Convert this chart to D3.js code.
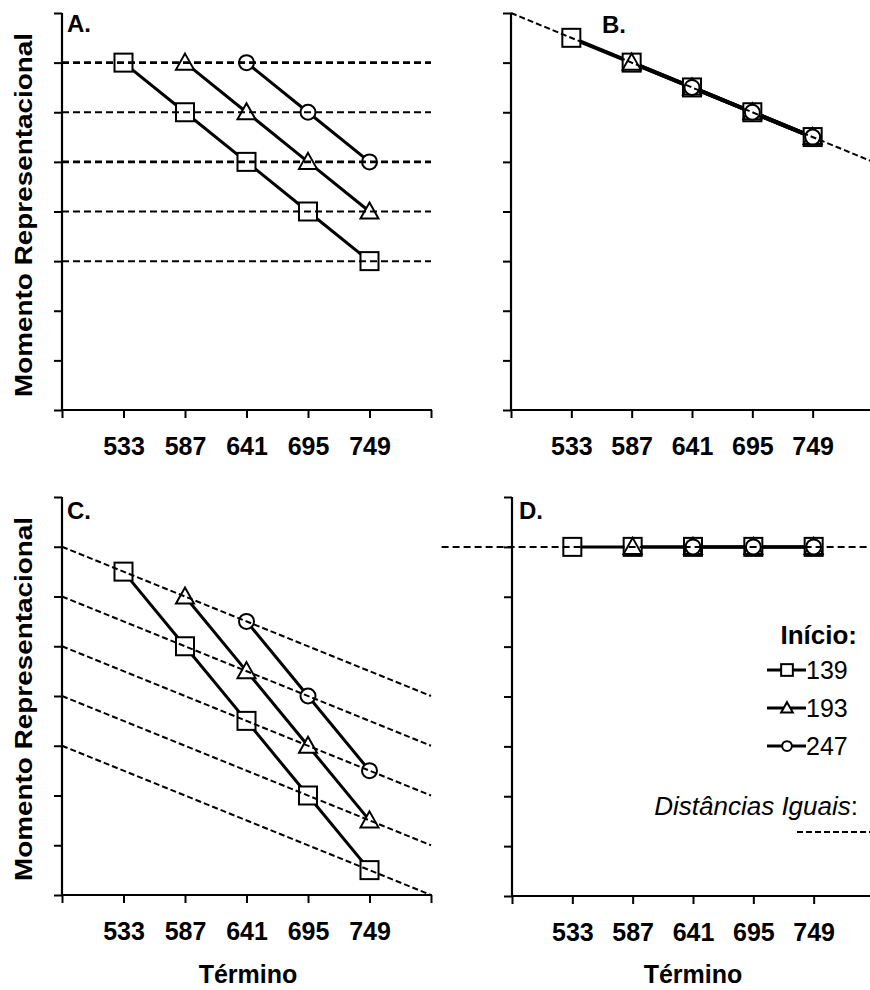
<!DOCTYPE html>
<html>
<head>
<meta charset="utf-8">
<script src="https://cdn.jsdelivr.net/npm/d3@7"></script>
<style>
  body { margin: 0; background: #fff; }
  svg { display: block; font-family: "Liberation Sans", Arial, sans-serif; }
</style>
</head>
<body>
<div class="canva"></div>
<script>
// dados
const termino = [533, 587, 641, 695, 749];
const xTicks = [479, 533, 587, 641, 695, 749, 803];
const inicio = ["139", "193", "247"];
const simbolos = ["square", "triangle", "circle"];

// valores por painel (null = sem ponto)
const painelA = [[7, 6, 5, 4, 3], [null, 7, 6, 5, 4], [null, null, 7, 6, 5]];
const painelB = [[7.5, 7, 6.5, 6, 5.5], [null, 7, 6.5, 6, 5.5], [null, null, 6.5, 6, 5.5]];
const painelC = [[6.5, 5, 3.5, 2, 0.5], [null, 6, 4.5, 3, 1.5], [null, null, 5.5, 4, 2.5]];
const painelD = [[7, 7, 7, 7, 7], [null, 7, 7, 7, 7], [null, null, 7, 7, 7]];

// linhas de distancias iguais: inicio e fim
const guiaAinicio = [7, 6, 5, 4, 3], guiaAfim = [7, 6, 5, 4, 3];
const guiaBinicio = [8], guiaBfim = [5];
const guiaCinicio = [7, 6, 5, 4, 3], guiaCfim = [4, 3, 2, 1, 0];
const guiaDinicio = [7], guiaDfim = [7];
const guiaX = [479, 803];
const guiaXD = [416, 803];

const svg = d3.select(".canva").append("svg")
    .attr("width", 870)
    .attr("height", 990);

function painel(p) {
    const x = d3.scaleLinear().domain([479, 803]).range(p.xr);
    const y = d3.scaleLinear().domain([0, 8]).range(p.yr);
    const g = svg.append("g");

    // eixos
    const ax = g.append("g")
        .attr("transform", "translate(0," + p.yr[0] + ")")
        .call(d3.axisBottom(x).tickValues(xTicks).tickSize(8).tickPadding(19)
            .tickFormat(d => termino.includes(d) ? d : ""));
    const ay = g.append("g")
        .attr("transform", "translate(" + p.xr[0] + ",0)")
        .call(d3.axisLeft(y).ticks(8).tickSize(8).tickFormat(""));
    [ax, ay].forEach(a => {
        a.select(".domain").attr("stroke-width", 2.2).attr("d",
            a === ax ? "M" + p.xr[0] + ",0H" + (p.xr[1] + 1) : "M0," + p.yr[0] + "V" + p.yr[1]);
        a.selectAll(".tick line").attr("stroke-width", 2);
        a.attr("font-family", null).attr("font-size", null);
    });
    ax.selectAll("text").attr("font-size", 25).attr("font-weight", "bold").attr("fill", "#000");

    // series
    const linha = d3.line()
        .defined(d => d != null)
        .x((d, i) => x(termino[i]))
        .y(d => y(d));
    p.dados.forEach(s => {
        g.append("path").attr("d", linha(s))
            .attr("fill", "none").attr("stroke", "#000").attr("stroke-width", p.lw || 3);
    });
    p.dados.forEach((s, k) => {
        s.forEach((v, i) => {
            if (v == null) return;
            marcador(g, simbolos[k], x(termino[i]), y(v), 1);
        });
    });

    // distancias iguais
    p.gi.forEach((v, i) => {
        g.append("line")
            .attr("x1", x(p.gx[0])).attr("y1", y(v))
            .attr("x2", x(p.gx[1])).attr("y2", y(p.gf[i]))
            .attr("stroke", "#000")
            .attr("stroke-width", p.gw ? p.gw[i] : 2)
            .attr("stroke-dasharray", p.dash);
    });

    g.append("text").attr("x", p.lx).attr("y", p.ly)
        .attr("font-size", 24).attr("font-weight", "bold").text(p.letra);

    return { x, y };
}

function marcador(g, tipo, cx, cy, s) {
    if (tipo === "square") {
        g.append("rect").attr("x", cx - 9 * s).attr("y", cy - 9 * s)
            .attr("width", 18 * s).attr("height", 18 * s)
            .attr("fill", "#fff").attr("stroke", "#000").attr("stroke-width", 2);
    } else if (tipo === "triangle") {
        g.append("path")
            .attr("d", "M" + cx + "," + (cy - 9 * s) + "L" + (cx + 9 * s) + "," + (cy + 7 * s) +
                "L" + (cx - 9 * s) + "," + (cy + 7 * s) + "Z")
            .attr("fill", "#fff").attr("stroke", "#000").attr("stroke-width", 2);
    } else {
        g.append("circle").attr("cx", cx).attr("cy", cy).attr("r", 7.5 * s)
            .attr("fill", "#fff").attr("stroke", "#000").attr("stroke-width", 2);
    }
}

painel({ xr: [62, 431], yr: [410, 13], dados: painelA, gi: guiaAinicio, gf: guiaAfim,
    gx: guiaX, dash: "7,4", gw: [2.6, 2, 2.6, 2, 2], letra: "A.", lx: 67, ly: 32 });
painel({ xr: [511, 873], yr: [410, 13], dados: painelB, gi: guiaBinicio, gf: guiaBfim,
    gx: guiaX, dash: "6,3", lw: 4, letra: "B.", lx: 602, ly: 33 });
painel({ xr: [62, 431], yr: [895, 497], dados: painelC, gi: guiaCinicio, gf: guiaCfim,
    gx: guiaX, dash: "6,3", letra: "C.", lx: 67, ly: 519 });
painel({ xr: [512, 874], yr: [896, 497], dados: painelD, gi: guiaDinicio, gf: guiaDfim,
    gx: guiaXD, dash: "7,4", letra: "D.", lx: 519, ly: 519 });

// titulos dos eixos
[215, 699].forEach(cy => {
    svg.append("text")
        .attr("transform", "translate(32," + cy + ") rotate(-90)")
        .attr("text-anchor", "middle")
        .attr("font-size", 24).attr("font-weight", "bold")
        .attr("textLength", 364).attr("lengthAdjust", "spacingAndGlyphs")
        .text("Momento Representacional");
});
[248, 693].forEach(cx => {
    svg.append("text").attr("x", cx).attr("y", 983)
        .attr("text-anchor", "middle")
        .attr("font-size", 25).attr("font-weight", "bold")
        .text("Término");
});

// legenda
const leg = svg.append("g");
leg.append("text").attr("x", 857).attr("y", 644).attr("text-anchor", "end")
    .attr("font-size", 26).attr("font-weight", "bold").text("Início:");
inicio.forEach((t, k) => {
    const cy = 670 + k * 38;
    leg.append("line").attr("x1", 767).attr("x2", 806).attr("y1", cy).attr("y2", cy)
        .attr("stroke", "#000").attr("stroke-width", 3);
    marcador(leg, simbolos[k], 787, cy, 0.65);
    leg.append("text").attr("x", 806).attr("y", cy + 9)
        .attr("font-size", 25).text(t);
});
const dist = leg.append("text").attr("x", 858).attr("y", 815).attr("text-anchor", "end")
    .attr("font-size", 26);
dist.append("tspan").attr("font-style", "italic").text("Distâncias Iguais");
dist.append("tspan").text(":");
leg.append("line").attr("x1", 797).attr("x2", 870).attr("y1", 832).attr("y2", 832)
    .attr("stroke", "#000").attr("stroke-width", 2).attr("stroke-dasharray", "6,3");
</script>
</body>
</html>
